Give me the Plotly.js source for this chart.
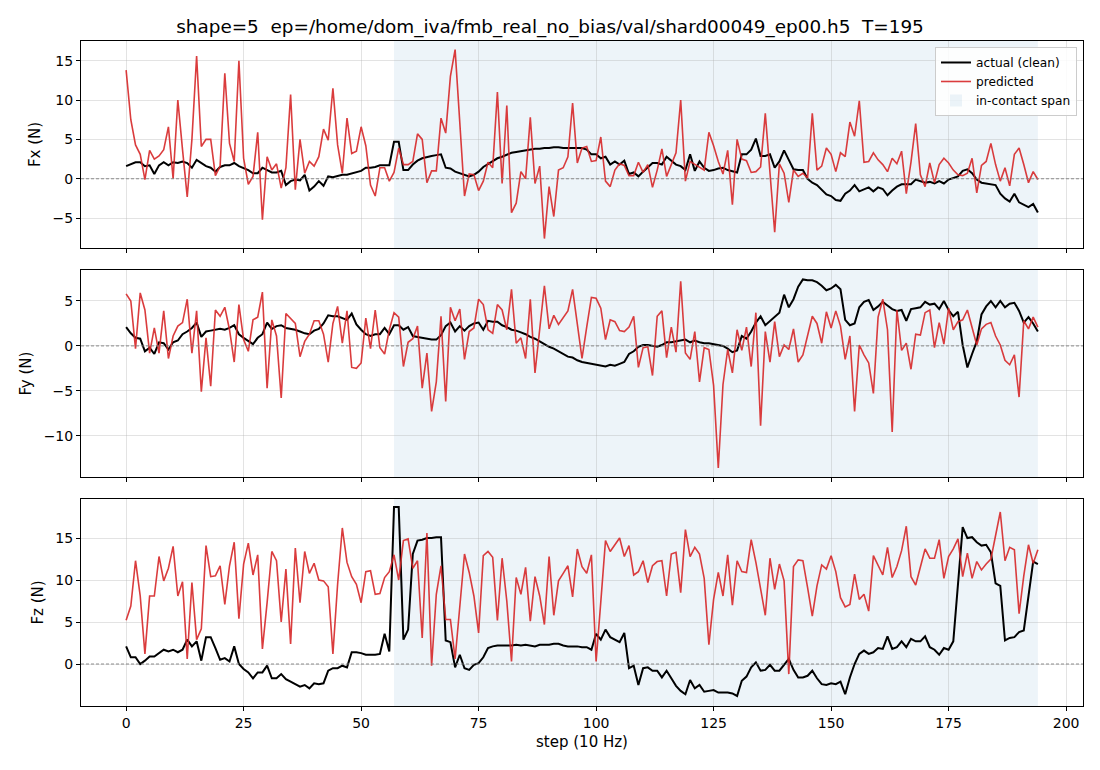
<!DOCTYPE html>
<html>
<head>
<meta charset="utf-8">
<script src="https://cdn.plot.ly/plotly-3.0.1.min.js"></script>
<style>html,body{margin:0;padding:0;background:#fff;}#chart{width:1100px;height:770px;}</style>
</head>
<body>
<div id="chart"></div>
<script>
const chartTitle = "shape=5  ep=/home/dom_iva/fmb_real_no_bias/val/shard00049_ep00.h5  T=195";
const contactStart = 57;
const contactEnd = 194;
const xTicks = [0, 25, 50, 75, 100, 125, 150, 175, 200];

const fxActual = [1.6,1.8,2.1,2.1,1.6,1.7,0.6,1.7,2.1,1.7,
2.1,2.0,2.2,2.0,1.4,2.4,2.0,1.6,1.4,0.9,
1.5,1.7,1.7,2.0,1.6,1.4,1.1,0.7,0.7,1.4,
1.1,0.8,0.8,1.0,-0.8,-0.3,-0.1,-0.2,0.5,-1.5,
-1.0,-0.3,-0.9,0.3,0.2,0.4,0.5,0.5,0.7,0.9,
1.0,1.4,1.4,1.5,1.7,1.7,1.7,4.7,4.7,1.1,
1.1,1.8,2.3,2.6,2.8,2.9,3.0,3.1,1.4,1.3,
0.9,0.7,0.5,0.3,0.5,0.9,1.5,1.9,2.3,2.6,
2.8,3.1,3.3,3.4,3.5,3.6,3.7,3.8,3.8,3.9,
3.9,4.0,4.0,3.9,3.9,3.9,3.9,3.9,3.7,3.1,
3.1,2.6,2.8,1.8,2.2,1.8,2.3,0.6,0.8,0.3,
0.9,1.4,2.0,2.0,1.8,2.8,2.3,1.8,1.6,1.1,
3.1,1.0,2.2,1.4,1.0,1.1,1.3,1.4,1.1,0.9,
0.8,3.1,3.1,3.7,5.1,2.9,2.9,3.1,1.4,2.2,
3.6,2.4,1.2,1.1,1.1,0.0,-0.5,-0.8,-1.4,-2.0,
-2.2,-2.7,-2.8,-1.9,-1.5,-0.8,-1.6,-1.3,-1.1,-1.6,
-1.1,-1.3,-2.1,-1.5,-1.0,-0.7,-0.7,-0.7,-0.1,-0.3,
-0.5,-0.4,-0.6,-0.3,-0.6,-0.1,0.1,0.3,1.0,1.2,
0.7,-0.1,-0.5,-0.6,-0.7,-0.8,-1.9,-2.5,-2.9,-1.9,
-3.0,-3.3,-3.6,-3.2,-4.3];

const fxPred = [13.8,7.5,4.3,3.1,-0.1,3.6,2.5,2.9,3.7,6.6,
0.0,10.0,3.7,-2.3,5.0,15.6,4.1,5.0,5.0,0.4,
1.6,13.4,4.5,2.2,15.0,2.6,-0.7,0.3,5.9,-5.2,
2.8,1.1,1.9,-1.2,1.4,10.7,-1.4,5.0,0.7,2.2,
1.6,2.8,6.3,4.9,11.5,4.3,0.7,7.7,3.2,3.5,
6.6,4.2,-0.8,-2.2,1.4,1.4,-0.3,0.8,3.9,1.8,
1.8,2.2,5.7,5.0,-0.5,1.0,1.0,7.7,5.8,13.0,
16.4,7.0,-2.2,0.6,0.5,-1.5,-0.3,2.1,1.4,11.0,
-0.6,9.3,-4.3,-3.1,0.9,0.0,7.8,-0.6,1.6,-7.6,
-1.0,-4.8,1.1,1.4,2.8,9.6,2.0,3.9,4.1,2.2,
2.3,5.3,-0.3,-1.0,1.1,1.9,1.7,0.4,0.4,2.1,
0.8,1.8,-1.1,1.1,3.8,0.3,1.7,3.3,10.0,-0.3,
2.2,1.8,1.4,1.1,5.9,4.2,2.2,0.6,3.6,-3.3,
5.0,2.5,2.3,0.8,0.9,1.5,8.3,1.0,-6.8,1.9,
0.7,-3.0,1.1,0.3,0.7,0.1,8.3,1.1,1.6,3.9,
3.1,0.9,3.3,2.8,7.2,5.4,9.9,2.1,2.2,3.3,
2.4,1.8,0.9,2.6,1.9,3.5,-1.9,2.1,7.0,0.5,
-1.0,2.0,-0.5,1.8,2.6,2.0,1.1,0.5,0.4,0.7,
2.6,-1.8,1.7,2.2,4.5,1.8,-0.3,1.4,-0.9,3.1,
3.9,1.8,-0.5,0.9,-0.1];

const fyActual = [2.1,1.4,0.9,0.8,-0.6,-0.2,-0.9,0.4,0.3,-0.4,
0.4,0.6,1.3,1.6,2.0,2.6,1.0,1.6,1.7,1.8,
1.9,1.8,2.0,2.3,1.3,0.9,0.5,0.2,0.9,1.3,
2.6,1.9,2.2,2.3,2.0,1.9,1.8,1.6,1.4,1.3,
1.7,1.9,2.5,3.4,3.3,3.3,3.1,2.9,3.6,2.4,
1.8,1.3,1.1,1.3,1.3,2.0,1.3,2.3,2.3,1.8,
2.1,1.1,1.0,0.9,0.8,0.7,0.7,1.2,2.2,2.6,
1.6,2.2,1.7,2.2,2.5,2.6,1.8,2.8,2.7,2.7,
2.3,2.1,1.8,1.7,1.5,1.3,1.0,0.8,0.5,0.2,
-0.1,-0.3,-0.6,-0.9,-1.2,-1.3,-1.6,-1.8,-1.9,-2.0,
-2.1,-2.2,-2.3,-2.1,-2.2,-2.0,-1.8,-0.9,-0.6,-0.1,
0.1,0.1,0.0,-0.1,0.1,0.4,0.4,0.5,0.6,0.7,
0.4,0.6,0.4,0.3,0.3,0.2,0.1,0.0,-0.3,-0.7,
-0.5,1.1,0.8,1.6,2.6,3.3,2.3,2.8,3.3,3.7,
5.7,4.3,5.2,6.6,7.4,7.3,7.3,7.1,6.7,6.2,
6.4,6.8,6.3,2.9,2.3,2.5,4.3,4.9,5.1,4.0,
4.4,4.9,4.5,4.1,3.9,4.0,2.8,4.1,4.2,4.3,
4.9,4.6,4.7,4.1,5.0,4.0,3.3,3.8,0.1,-2.4,
-0.9,0.5,3.5,4.4,5.0,4.3,5.0,4.3,4.7,4.8,
3.9,2.6,3.2,2.5,1.6];

const fyPred = [5.8,5.0,-0.3,5.9,4.0,-0.8,2.0,-0.8,3.9,-1.4,
1.1,2.2,2.6,5.2,-0.8,3.9,-5.1,0.9,-4.5,4.0,
3.3,4.3,1.8,-1.8,4.6,0.7,-0.6,2.9,3.2,6.0,
-4.7,2.9,1.1,-5.8,3.6,3.1,2.5,-1.2,0.5,1.3,
2.8,2.8,1.3,-1.8,2.5,4.4,0.3,3.9,-2.4,-2.5,
-1.9,3.1,-0.3,4.0,-0.2,-0.9,1.8,3.7,3.2,-2.3,
0.4,0.8,2.2,-4.7,-0.8,-7.3,-4.0,3.3,-6.2,4.3,
2.8,4.1,-1.5,1.6,2.0,5.2,4.6,1.8,1.4,4.6,
4.0,1.8,6.3,0.3,0.9,-1.4,5.2,-3.0,2.0,6.7,
1.9,3.4,2.4,3.1,3.9,6.3,2.4,-1.4,2.1,5.4,
5.3,4.2,0.7,2.9,2.7,1.7,1.6,2.1,3.3,-2.4,
-0.2,-0.1,-3.3,3.3,3.9,-1.3,2.1,-0.7,7.2,-0.8,
-1.5,1.6,-4.0,-0.2,-0.4,-4.4,-13.6,-4.3,-0.4,-3.0,
1.8,-0.5,2.1,-2.3,3.7,-8.9,1.6,-1.8,2.7,-1.2,
0.1,-0.4,1.9,-1.8,-1.0,1.3,3.3,2.5,0.3,3.8,
2.0,3.9,2.2,-1.5,1.1,-7.3,0.1,-1.0,-1.9,-5.3,
3.2,5.2,1.8,-9.6,4.0,-0.5,0.3,-2.6,1.3,1.2,
3.7,4.0,-0.2,2.6,0.2,4.2,1.8,2.7,2.9,4.0,
2.0,0.1,1.9,2.4,2.6,1.1,0.1,-1.6,-2.1,-1.0,
-5.7,2.8,1.9,3.2,2.1];

const fzActual = [2.1,0.8,0.8,0.0,0.4,0.9,0.9,1.3,1.7,1.5,
1.7,1.4,1.7,2.9,2.1,2.7,0.4,3.2,3.2,1.9,
0.5,0.7,0.3,2.1,0.0,-0.6,-1.0,-1.7,-1.0,-1.0,
-0.2,-1.7,-1.7,-1.2,-1.8,-2.1,-2.4,-2.7,-2.5,-2.9,
-2.3,-2.4,-2.3,-0.8,-0.5,-0.5,-0.2,-0.4,1.4,1.4,
1.3,1.1,1.1,1.1,1.2,3.6,1.5,18.7,18.7,2.9,
4.1,13.1,14.7,14.8,15.0,15.0,15.1,15.1,2.8,2.6,
-0.4,1.1,-0.5,-0.7,-0.1,0.1,0.8,1.9,2.1,2.2,
2.2,2.2,2.2,2.3,2.2,2.3,2.2,2.1,2.3,2.3,
2.3,2.4,2.4,2.2,2.1,2.1,2.1,2.0,2.0,1.7,
3.6,2.9,4.1,3.2,2.9,2.6,3.7,-0.5,-0.2,-2.5,
-0.5,-0.4,-0.8,-0.8,-1.6,-0.8,-1.7,-2.6,-3.2,-3.6,
-1.9,-2.9,-2.5,-3.3,-3.2,-3.1,-3.4,-3.4,-3.4,-3.5,
-3.8,-2.0,-1.5,-0.4,0.2,-0.8,-0.7,-0.1,-0.8,-0.8,
-0.1,0.6,-0.7,-1.6,-1.6,-1.4,-0.8,-1.7,-2.4,-2.5,
-2.3,-2.4,-2.1,-3.6,-1.6,0.0,1.2,1.6,1.2,1.4,
1.9,1.8,3.3,1.8,2.0,2.7,2.0,3.0,2.7,2.7,
3.3,2.0,1.7,1.1,1.9,1.7,2.7,9.0,16.3,15.0,
15.1,14.5,14.1,14.2,13.3,9.6,9.3,2.8,3.1,3.2,
3.8,4.0,8.1,12.2,11.9];

const fzPred = [5.2,6.9,12.3,8.1,1.2,8.1,8.1,12.8,9.9,11.4,
14.0,8.1,9.8,0.6,9.7,2.9,4.2,14.1,10.4,10.5,
11.7,7.1,11.7,14.5,5.4,11.9,14.4,10.6,13.0,1.8,
7.3,13.4,12.3,5.0,11.3,2.4,13.8,7.3,13.4,10.8,
12.0,10.0,9.9,9.2,1.2,9.5,16.2,12.1,10.4,9.5,
7.3,11.0,11.1,8.3,8.4,10.3,11.0,13.0,10.0,14.7,
14.9,11.4,12.3,3.1,15.6,-0.2,8.3,11.7,5.3,5.3,
0.6,6.5,13.1,10.9,8.1,3.7,12.9,13.4,12.7,5.2,
12.6,7.5,0.3,10.3,8.3,11.5,5.1,10.4,8.1,4.7,
12.8,5.8,9.9,10.8,11.7,8.0,13.7,11.6,10.8,13.0,
0.3,7.4,14.7,13.4,14.2,15.0,12.8,14.1,10.6,11.0,
12.3,9.7,11.7,12.2,12.3,8.1,13.1,13.3,8.5,16.0,
12.8,13.9,13.1,10.2,2.3,7.7,10.9,8.1,13.0,7.0,
12.3,11.0,10.9,14.8,12.1,8.7,5.8,12.6,8.9,11.9,
9.9,-1.2,11.6,12.4,12.3,9.1,5.7,9.3,11.8,11.3,
12.9,11.0,7.9,6.8,7.1,10.7,7.7,8.3,6.3,12.9,
11.8,10.6,13.9,10.3,11.6,13.5,16.4,10.4,9.4,11.5,
13.7,12.6,12.6,14.8,10.2,12.8,13.7,14.9,10.4,13.2,
10.2,12.2,11.2,11.9,12.5,15.3,18.1,12.3,13.9,13.6,
6.0,10.5,14.2,12.0,13.6];

const steps = fxActual.map((_, i) => i);

const BLACK = "#000000";
const RED = "rgba(214,39,40,0.9)";
const SPAN = "rgba(31,119,180,0.08)";
const FONT = "DejaVu Sans, Liberation Sans, sans-serif";

const panels = [
  {a: fxActual, p: fxPred, label: "Fx (N)", range: [-8.8, 17.5], ticks: [-5, 0, 5, 10, 15]},
  {a: fyActual, p: fyPred, label: "Fy (N)", range: [-14.6, 8.45], ticks: [-10, -5, 0, 5]},
  {a: fzActual, p: fzPred, label: "Fz (N)", range: [-5.0, 19.65], ticks: [0, 5, 10, 15]}
];
const domains = [[0.6887, 1.0], [0.3444, 0.6556], [0.0, 0.3113]];

const traces = [];
const shapes = [];
const layout = {
  width: 1100, height: 770,
  margin: {l: 81, r: 17, t: 41, b: 64},
  paper_bgcolor: "#ffffff", plot_bgcolor: "#ffffff",
  font: {family: FONT, size: 14, color: "#000"},
  title: {text: chartTitle, x: 0.5, xanchor: "center", y: 0.966, yanchor: "middle", font: {size: 18.4, family: FONT, color: "#000"}},
  showlegend: true,
  legend: {x: 0.994, xanchor: "right", y: 0.991, yanchor: "top", bgcolor: "rgba(255,255,255,0.85)", bordercolor: "#cccccc", borderwidth: 1, font: {size: 12.2, family: FONT}, tracegroupgap: 0, itemwidth: 30},
  shapes: shapes
};

panels.forEach((pn, i) => {
  const n = i + 1;
  const xa = n === 1 ? "x" : "x" + n;
  const ya = n === 1 ? "y" : "y" + n;
  traces.push({x: steps, y: pn.a, type: "scatter", mode: "lines", xaxis: xa, yaxis: ya, name: "actual (clean)", showlegend: i === 0, legendgroup: "a", line: {color: BLACK, width: 2}});
  traces.push({x: steps, y: pn.p, type: "scatter", mode: "lines", xaxis: xa, yaxis: ya, name: "predicted", showlegend: i === 0, legendgroup: "p", line: {color: RED, width: 1.6}});
  shapes.push({type: "rect", xref: xa, yref: ya + " domain", x0: contactStart, x1: contactEnd, y0: 0, y1: 1, fillcolor: SPAN, line: {width: 0}, layer: "below", name: "in-contact span", showlegend: i === 0});
  shapes.push({type: "line", xref: xa + " domain", yref: ya, x0: 0, x1: 1, y0: 0, y1: 0, line: {color: "#808080", width: 0.9, dash: "3px,2px"}, layer: "above"});
  const axKey = n === 1 ? "xaxis" : "xaxis" + n;
  const ayKey = n === 1 ? "yaxis" : "yaxis" + n;
  layout[axKey] = {
    domain: [0, 1], anchor: ya, range: [-9.6, 203.6], tickvals: xTicks,
    showticklabels: n === 3, ticks: "outside", ticklen: 4, tickcolor: "#000", tickwidth: 1,
    showline: true, mirror: true, linecolor: "#000", linewidth: 1,
    showgrid: true, gridcolor: "rgba(176,176,176,0.35)", gridwidth: 1, zeroline: false,
    tickfont: {size: 14, family: FONT}
  };
  if (n === 3) layout[axKey].title = {text: "step (10 Hz)", font: {size: 15, family: FONT}, standoff: 6};
  layout[ayKey] = {
    domain: domains[i], anchor: xa, range: pn.range, tickvals: pn.ticks,
    ticktext: pn.ticks.map(v => v < 0 ? "\u2212" + Math.abs(v) : String(v)),
    ticks: "outside", ticklen: 4, tickcolor: "#000", tickwidth: 1,
    showline: true, mirror: true, linecolor: "#000", linewidth: 1,
    showgrid: true, gridcolor: "rgba(176,176,176,0.35)", gridwidth: 1, zeroline: false,
    tickfont: {size: 14, family: FONT},
    title: {text: pn.label, font: {size: 15, family: FONT}, standoff: 8}
  };
});

Plotly.newPlot("chart", traces, layout, {displayModeBar: false, staticPlot: true});
</script>
</body>
</html>
